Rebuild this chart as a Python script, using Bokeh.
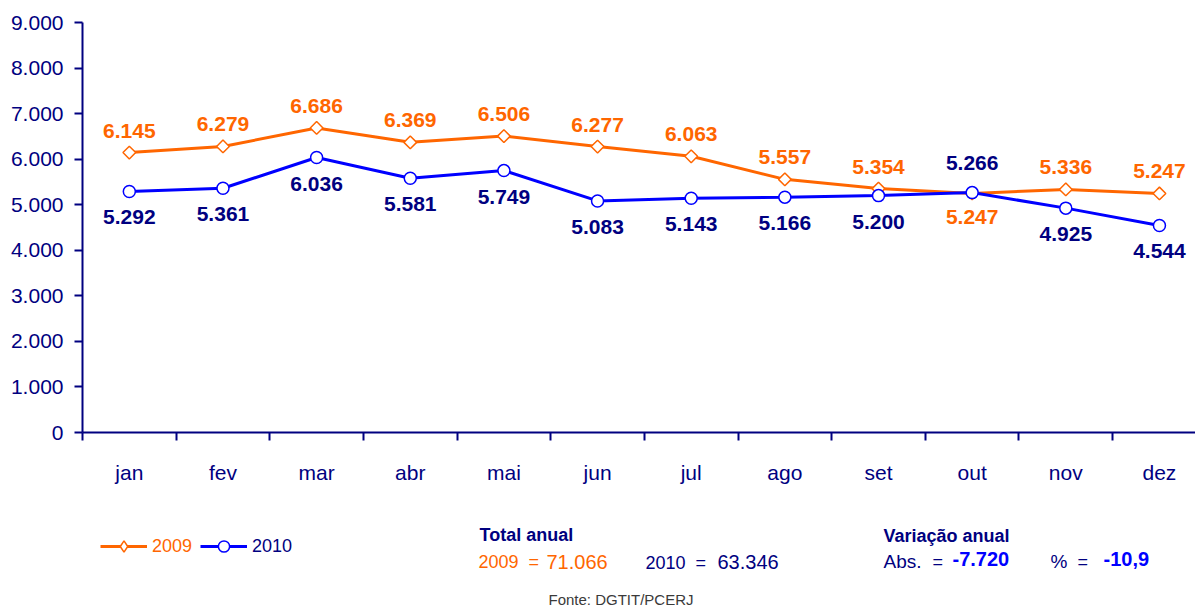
import math
from bokeh.plotting import figure
from bokeh.layouts import column
from bokeh.models import (Range1d, FixedTicker, Legend, LegendItem, Label,
                          ColumnDataSource)
from bokeh.embed import file_html
from bokeh.resources import INLINE
from bokeh.core.properties import value

# ---------------- data ----------------
months = ["jan", "fev", "mar", "abr", "mai", "jun",
          "jul", "ago", "set", "out", "nov", "dez"]
y2009 = [6145, 6279, 6686, 6369, 6506, 6277, 6063, 5557, 5354, 5247, 5336, 5247]
y2010 = [5292, 5361, 6036, 5581, 5749, 5083, 5143, 5166, 5200, 5266, 4925, 4544]
# where each data label sits relative to its point
place2009 = ["above"] * 9 + ["below", "above", "above"]
place2010 = ["below"] * 9 + ["above", "below", "below"]
y_ticks = [0, 1000, 2000, 3000, 4000, 5000, 6000, 7000, 8000, 9000]
y_tick_labels = ["0", "1.000", "2.000", "3.000", "4.000", "5.000",
                 "6.000", "7.000", "8.000", "9.000"]


def fmt(v):
    return f"{v:,}".replace(",", ".")


total09 = sum(y2009)
total10 = sum(y2010)
abs_var = total10 - total09
pct_var = round((total10 - total09) / total09 * 100, 1)

# ---------------- styling ----------------
ORANGE = "#FF6600"
NAVY = "#000080"
BLUE = "#0000FF"
FONT = "Liberation Sans"

W = 1195
p = figure(width=W, height=500, output_backend="svg", toolbar_location=None,
           x_range=Range1d(0, 11.885), y_range=Range1d(0, 9000),
           min_border_left=82, min_border_right=0, min_border_top=22,
           min_border_bottom=68)
p.outline_line_color = None
p.xgrid.grid_line_color = None
p.ygrid.grid_line_color = None

xa = p.xaxis[0]
ya = p.yaxis[0]
xa.ticker = FixedTicker(ticks=[i + 0.5 for i in range(12)],
                        minor_ticks=list(range(13)))
xa.major_label_overrides = {i + 0.5: m for i, m in enumerate(months)}
ya.ticker = FixedTicker(ticks=y_ticks, minor_ticks=[])
ya.major_label_overrides = {t: l for t, l in zip(y_ticks, y_tick_labels)}

for ax in (xa, ya):
    ax.axis_line_color = NAVY
    ax.axis_line_width = 2
    ax.major_label_text_color = NAVY
    ax.major_label_text_font = FONT
    ax.major_label_text_font_size = "21px"

ya.major_tick_out = 8
ya.major_tick_in = 0
ya.major_tick_line_color = NAVY
ya.major_tick_line_width = 2
ya.minor_tick_line_color = None
ya.major_label_standoff = 11

xa.major_tick_line_color = None
xa.major_tick_out = 8
xa.major_tick_in = 0
xa.minor_tick_out = 8
xa.minor_tick_in = 0
xa.minor_tick_line_color = NAVY
xa.minor_tick_line_width = 2
xa.major_label_standoff = 20

x = [i + 0.5 for i in range(12)]
src09 = ColumnDataSource(dict(
    x=x, y=y2009, lab=[fmt(v) for v in y2009],
    dy=[-22 if s == "above" else 24 for s in place2009]))
src10 = ColumnDataSource(dict(
    x=x, y=y2010, lab=[fmt(v) for v in y2010],
    dy=[-30 if s == "above" else 26 for s in place2010]))

line09 = dict(line_color=ORANGE, line_width=3)
mark09 = dict(marker="square", angle=math.pi / 4, size=9, fill_color="white",
              line_color=ORANGE, line_width=1.5)
line10 = dict(line_color=BLUE, line_width=3)
mark10 = dict(marker="circle", size=12, fill_color="white",
              line_color=BLUE, line_width=1.5)

p.line("x", "y", source=src09, **line09)
p.scatter("x", "y", source=src09, **mark09)
p.line("x", "y", source=src10, **line10)
p.scatter("x", "y", source=src10, **mark10)

p.text("x", "y", text="lab", source=src09, y_offset="dy", text_align="center",
       text_baseline="middle", text_font=value(FONT), text_font_style="bold",
       text_font_size="21px", text_color=ORANGE)
p.text("x", "y", text="lab", source=src10, y_offset="dy", text_align="center",
       text_baseline="middle", text_font=value(FONT), text_font_style="bold",
       text_font_size="21px", text_color=NAVY)

# ---------------- footer (legend + totals) ----------------
# (the column layout aligns this frame's left edge with the chart's frame)
f = figure(width=W, height=107, output_backend="svg", toolbar_location=None,
           x_range=Range1d(-100, -99), y_range=Range1d(-100, -99),
           x_axis_location=None, y_axis_location=None,
           min_border_left=0, min_border_right=0, min_border_top=0,
           min_border_bottom=0)
f.outline_line_color = None
f.xgrid.grid_line_color = None
f.ygrid.grid_line_color = None

# same series drawn off-range here, only to feed the legend swatches
fl09 = f.line("x", "y", source=src09, **line09)
fs09 = f.scatter("x", "y", source=src09, marker="diamond", fill_color="white",
                 line_color=ORANGE, line_width=1.5)
fl10 = f.line("x", "y", source=src10, **line10)
fs10 = f.scatter("x", "y", source=src10, **mark10)


def make_legend(label, rends, color, loc):
    leg = Legend(items=[LegendItem(label=label, renderers=rends)],
                 location=loc, orientation="horizontal",
                 glyph_width=47, glyph_height=28, label_standoff=5,
                 label_height=20, padding=0, margin=0, spacing=0,
                 border_line_color=None, background_fill_alpha=0,
                 label_text_font=FONT, label_text_font_size="18px",
                 label_text_color=color)
    f.add_layout(leg)


make_legend("2009", [fl09, fs09], ORANGE, (18, 47))
make_legend("2010", [fl10, fs10], NAVY, (118, 47))


def lab(xs, ys, text, color, size, bold=False):
    f.add_layout(Label(x=xs, y=ys, x_units="screen", y_units="screen",
                       text=text, text_color=color, text_font=FONT,
                       text_font_size=size,
                       text_font_style="bold" if bold else "normal",
                       text_align="left", text_baseline="middle"))


lab(397, 73, "Total anual", NAVY, "18px", True)
lab(396, 46, "2009", ORANGE, "18px")
lab(446, 46, "=", ORANGE, "18px")
lab(464, 46, fmt(total09), ORANGE, "20px")
lab(563, 45, "2010", NAVY, "18px")
lab(613, 45, "=", NAVY, "18px")
lab(635, 46, fmt(total10), NAVY, "20px")

lab(801, 72, "Variação anual", NAVY, "18px", True)
lab(801, 46, "Abs.", NAVY, "19px")
lab(850, 46, "=", NAVY, "18px")
lab(870, 49, "-" + fmt(-abs_var), BLUE, "20px", True)
lab(968, 46, "%", NAVY, "19px")
lab(995, 46, "=", NAVY, "18px")
lab(1021, 49, f"{pct_var}".replace(".", ","), BLUE, "20px", True)

lab(466, 8, "Fonte: DGTIT/PCERJ", "#3a3a3a", "15px")

layout = column(p, f, spacing=0)
open("out.html", "w").write(file_html(layout, INLINE))
